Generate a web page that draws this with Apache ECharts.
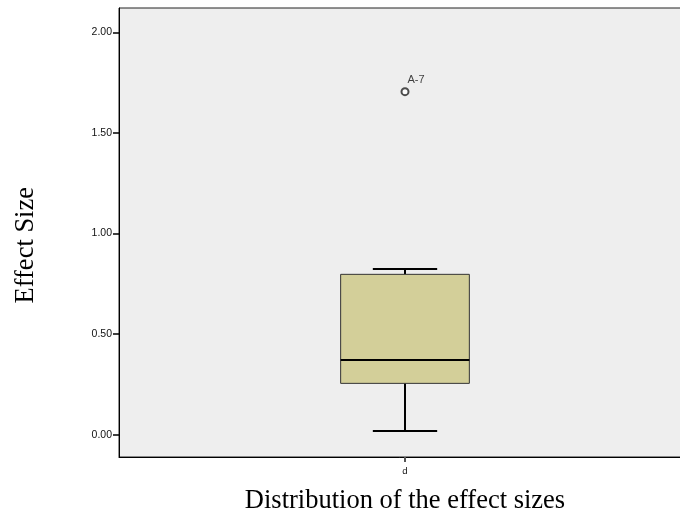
<!DOCTYPE html>
<html>
<head>
<meta charset="utf-8">
<script src="https://cdn.jsdelivr.net/npm/echarts@6/dist/echarts.min.js"></script>
<style>html,body{margin:0;padding:0;background:#fff;}#c{width:680px;height:529px;}</style>
</head>
<body>
<div id="c"></div>
<script>
var categories = ['d'];
// [lower whisker, Q1, median, Q3, upper whisker]
var boxValues = [[0.018, 0.255, 0.371, 0.797, 0.823]];
var outlierValues = [1.705];
var outlierLabels = ['A-7'];
var yTicks = [0, 0.5, 1, 1.5, 2];
var xTitle = 'Distribution of the effect sizes';
var yTitle = 'Effect Size';

var chart = echarts.init(document.getElementById('c'), null, {renderer: 'canvas'});

var boxData = boxValues.map(function (v, i) { return [i].concat(v); });
var outlierData = outlierValues.map(function (v, i) { return {value: [categories[0], v], label: outlierLabels[i]}; });

chart.setOption({
  animation: false,
  grid: {left: 119, width: 572, top: 8, bottom: 72, show: true, backgroundColor: '#eeeeee', borderColor: '#222', borderWidth: 1, containLabel: false, outerBoundsMode: 'none'},
  graphic: [
    {type: 'text', left: 13, top: 187, rotation: Math.PI / 2, style: {text: yTitle, fontFamily: 'Liberation Serif, Times New Roman', fontSize: 26.5, fill: '#000'}, silent: true}
  ],
  xAxis: {
    type: 'category', data: categories, boundaryGap: true,
    axisLine: {show: true, onZero: false, lineStyle: {color: '#000', width: 1}},
    axisTick: {show: true, alignWithLabel: true, length: 5, lineStyle: {color: '#555', width: 2}},
    axisLabel: {fontFamily: 'Liberation Sans, Arial', fontSize: 9.5, color: '#111', margin: 9},
    name: xTitle, nameLocation: 'middle', nameGap: 31,
    nameTextStyle: {fontFamily: 'Liberation Serif, Times New Roman', fontSize: 26.5, color: '#000'}
  },
  yAxis: {
    type: 'value', min: -0.111, max: 2.121,
    splitLine: {show: false},
    axisLine: {show: true, lineStyle: {color: '#000', width: 1}},
    axisTick: {show: true, length: 6, customValues: yTicks, lineStyle: {color: '#000', width: 1.5}},
    axisLabel: {customValues: yTicks, formatter: function (v) { return v.toFixed(2); }, fontFamily: 'Liberation Sans, Arial', fontSize: 10.5, color: '#111', margin: 7}
  },
  series: [
    {
      type: 'custom',
      data: boxData,
      renderItem: function (params, api) {
        var x = api.value(0);
        var lo = api.coord([x, api.value(1)]);
        var q1 = api.coord([x, api.value(2)]);
        var med = api.coord([x, api.value(3)]);
        var q3 = api.coord([x, api.value(4)]);
        var hi = api.coord([x, api.value(5)]);
        var bw = api.size([1, 0])[0] * 0.225;
        var cw = bw / 2;
        var cx = q1[0];
        return {
          type: 'group',
          children: [
            {type: 'line', shape: {x1: cx, y1: q1[1], x2: cx, y2: lo[1]}, style: {stroke: '#000', lineWidth: 2}},
            {type: 'line', shape: {x1: cx, y1: q3[1], x2: cx, y2: hi[1]}, style: {stroke: '#000', lineWidth: 2}},
            {type: 'line', shape: {x1: cx - cw / 2, y1: lo[1], x2: cx + cw / 2, y2: lo[1]}, style: {stroke: '#000', lineWidth: 2}},
            {type: 'line', shape: {x1: cx - cw / 2, y1: hi[1], x2: cx + cw / 2, y2: hi[1]}, style: {stroke: '#000', lineWidth: 2}},
            {type: 'rect', shape: {x: cx - bw / 2, y: q3[1], width: bw, height: q1[1] - q3[1]}, style: {fill: '#d3cf99', stroke: '#333', lineWidth: 1}},
            {type: 'line', shape: {x1: cx - bw / 2, y1: med[1], x2: cx + bw / 2, y2: med[1]}, style: {stroke: '#000', lineWidth: 2}}
          ]
        };
      },
      z: 2
    },
    {
      type: 'scatter',
      data: outlierData,
      symbol: 'emptyCircle', symbolSize: 7,
      itemStyle: {color: '#222', borderWidth: 1},
      label: {show: true, position: [7, -13], formatter: function (p) { return p.data.label; }, fontFamily: 'Liberation Sans, Arial', fontSize: 11, color: '#111'},
      z: 3
    }
  ]
});
</script>
</body>
</html>
